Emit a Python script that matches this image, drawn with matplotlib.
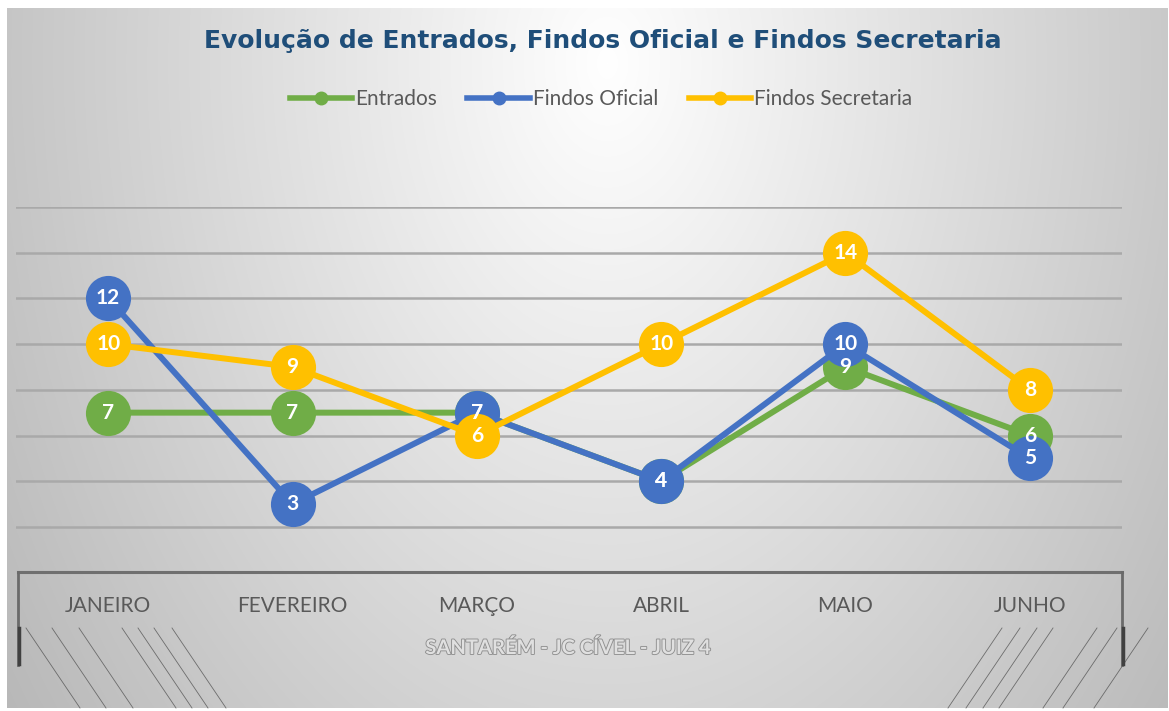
import numpy as np
import matplotlib
matplotlib.use("Agg")
import matplotlib.pyplot as plt
from matplotlib.lines import Line2D
import matplotlib.patheffects as pe

# ---------------- data ----------------
months = ["JANEIRO", "FEVEREIRO", "MARÇO", "ABRIL", "MAIO", "JUNHO"]
entrados = [7, 7, 7, 4, 9, 6]
findos_oficial = [12, 3, 7, 4, 10, 5]
findos_secretaria = [10, 9, 6, 10, 14, 8]
series_names = ["Entrados", "Findos Oficial", "Findos Secretaria"]
title = "Evolução de Entrados, Findos Oficial e Findos Secretaria"
subtitle = "SANTARÉM - JC CÍVEL - JUIZ 4"
grid_values = [2, 4, 6, 8, 10, 12, 14, 16]

colors = ["#70AD47", "#4472C4", "#FFC000"]

W, H = 1169, 711
fig = plt.figure(figsize=(W / 100, H / 100), dpi=100)
fig.patch.set_facecolor("white")

def fx(px):
    return px / W

def fy(py):
    return 1 - py / H

# ---------------- background gradient panel ----------------
bg = fig.add_axes([fx(7), fy(708), fx(1168) - fx(7), fy(8) - fy(708)], zorder=0)
yy, xx = np.mgrid[0:700, 0:1161]
cx, cy = 600, 55
d = np.sqrt(((xx - cx) / 640.0) ** 2 + ((yy - cy) / 950.0) ** 2)
g = 1.0 - 0.24 * np.clip(d, 0, 1.2)
img = np.dstack([g, g, g])
bg.imshow(img, aspect="auto", interpolation="bilinear")
bg.set_axis_off()

# ---------------- main axes ----------------
x0, x1 = 16, 1122
y_top, y_zero = 207, 572.6
ax = fig.add_axes([fx(x0), fy(y_zero), fx(x1) - fx(x0), fy(y_top) - fy(y_zero)], zorder=2)
ax.patch.set_alpha(0)
ax.set_xlim(-0.5, len(months) - 0.5)
ax.set_ylim(0, 16)
for s in ax.spines.values():
    s.set_visible(False)
ax.set_yticks([])
for gv in grid_values:
    ax.axhline(gv, color="#a9a9a9", lw=1.8, zorder=1)

x = np.arange(len(months))
data = [entrados, findos_oficial, findos_secretaria]
for i, (vals, c, name) in enumerate(zip(data, colors, series_names)):
    ax.plot(x, vals, color=c, lw=4.3, marker="o", markersize=32.5,
            markeredgewidth=0, label=name, zorder=3 + i, solid_capstyle="round")
for i, vals in enumerate(data):
    for xi, v in zip(x, vals):
        ax.text(xi, v, str(v), ha="center", va="center", color="white",
                fontsize=15, fontweight="bold", family="Lato", zorder=10)

ax.set_xticks(x)
ax.set_xticklabels(months, family="Lato", fontsize=15, color="#595959")
ax.tick_params(axis="x", length=0, pad=17)

# ---------------- legend ----------------
handles = [Line2D([0], [0], color=c, lw=4, marker="o", markersize=9) for c in colors]
leg = fig.legend(handles, series_names, loc="center", bbox_to_anchor=(fx(601), fy(99)),
                 ncol=3, frameon=False, prop={"family": "Lato", "size": 15},
                 handlelength=3.0, handletextpad=0.15, columnspacing=1.45)
for t in leg.get_texts():
    t.set_color("#595959")

# ---------------- title ----------------
fig.text(fx(603), fy(41), title, ha="center", va="center", fontsize=18,
         fontweight="bold", color="#1F4E79", family="DejaVu Sans")

# ---------------- bracket frame ----------------
def fline(xs, ys, **kw):
    fig.add_artist(Line2D([fx(v) for v in xs], [fy(v) for v in ys],
                          transform=fig.transFigure, **kw))

fline([18, 1122], [572, 572], color="#6f6f6f", lw=2.2, zorder=3)
fline([18, 18], [572, 665], color="#6a6a6a", lw=2.0, zorder=3)
fline([1122, 1122], [572, 665], color="#6a6a6a", lw=2.0, zorder=3)
fline([19, 19], [628, 664], color="#404040", lw=2.5, zorder=3)
fline([1123, 1123], [628, 664], color="#404040", lw=2.5, zorder=3)

# decorative hatch strokes in bottom corners
for sx in [26, 52, 79, 122, 138, 154, 172]:
    fline([sx, sx + 54], [628, 708], color="#555555", lw=0.6, alpha=0.8, zorder=1)
for sx in [1002, 1020, 1037, 1053, 1097, 1117, 1148]:
    fline([sx, sx - 54], [628, 708], color="#555555", lw=0.6, alpha=0.8, zorder=1)

# ---------------- subtitle ----------------
fig.text(fx(568), fy(648), subtitle, ha="center", va="center", fontsize=14.5,
         fontweight="bold", color="#e0e0e0", family="Lato",
         path_effects=[pe.withStroke(linewidth=1.3, foreground="#8f8f8f")], zorder=5)

fig.savefig("out.png", dpi=100, facecolor=fig.get_facecolor())
